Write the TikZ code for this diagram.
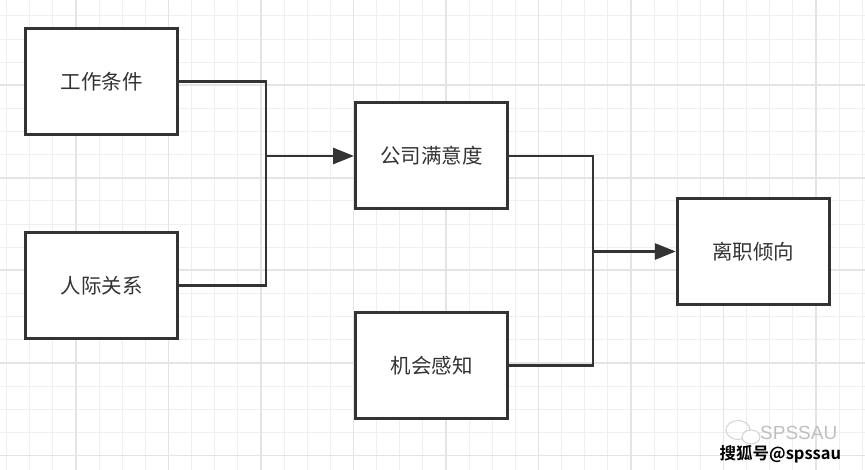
\documentclass[tikz,border=0pt]{standalone}
\usepackage{fontspec}
\newfontfamily\cjk{Noto Sans CJK SC}
\newfontfamily\cjkb{Noto Sans CJK SC Bold}
\newfontfamily\lsans{Liberation Sans}
\usetikzlibrary{arrows.meta}
\definecolor{ink}{HTML}{333333}
\definecolor{minorgrid}{HTML}{EFEFEF}
\definecolor{majorgrid}{HTML}{E4E4E4}
\tikzset{
  box/.style={draw=ink, line width=3pt, fill=white, minimum width=152pt, minimum height=106pt, inner sep=0pt,
    font=\cjk\fontsize{20.5}{20.5}\selectfont, text=ink},
  link/.style={draw=ink, line width=2.9pt},
  arrowlink/.style={link, -{Triangle[length=21pt,width=16pt]}},
  minorline/.style={draw=minorgrid, line width=0.8pt},
  majorline/.style={draw=majorgrid, line width=1.6pt},
}
\begin{document}
\begin{tikzpicture}[x=1pt,y=-1pt]
\useasboundingbox (0,0) rectangle (865,470);
\fill[white] (0,0) rectangle (865,470);
% grid
\foreach \i in {0,...,37} {
  \draw[minorline] ({6.6+23.125*\i},0) -- ({6.6+23.125*\i},470);
}
\foreach \i in {0,...,20} {
  \draw[minorline] (0,{15.9+23.125*\i}) -- (865,{15.9+23.125*\i});
}
\foreach \i in {0,...,8} {
  \draw[majorline] ({76+92.5*\i},0) -- ({76+92.5*\i},470);
}
\foreach \i in {0,...,4} {
  \draw[majorline] (0,{85.3+92.5*\i}) -- (865,{85.3+92.5*\i});
}
% nodes
\node[box] (work) at (101.7,81.7) {工作条件};
\node[box] (rel) at (101.7,285.3) {人际关系};
\node[box] (sat) at (431.5,156) {公司满意度};
\node[box] (opp) at (431.5,365.5) {机会感知};
\node[box] (quit) at (753.3,251.5) {离职倾向};
\coordinate (j1) at (266,156);
\coordinate (j2) at (593,251.5);
% connectors
\draw[link] (work.east) -| (j1) |- (rel.east);
\draw[arrowlink] (j1) -- (sat.west);
\draw[link] (sat.east) -| (j2) |- (opp.east);
\draw[arrowlink] (j2) -- (quit.west);
% watermark
\draw[gray!35, line width=1pt] (738,430) ellipse (12 and 9.5);
\draw[gray!35, line width=1pt, fill=white] (751,437) ellipse (9 and 7);
\node[anchor=base west, inner sep=0pt, text depth=0pt, text=gray!50, font=\lsans\fontsize{19}{19}\selectfont] (wm1) at (760,439.5) {SPSSAU};
\node[anchor=base west, inner sep=0pt, text height=12pt, text=black, font=\cjkb\fontsize{16.5}{16.5}\selectfont] (wm2) at (719.5,459) {搜狐号@spssau};
\end{tikzpicture}
\end{document}
